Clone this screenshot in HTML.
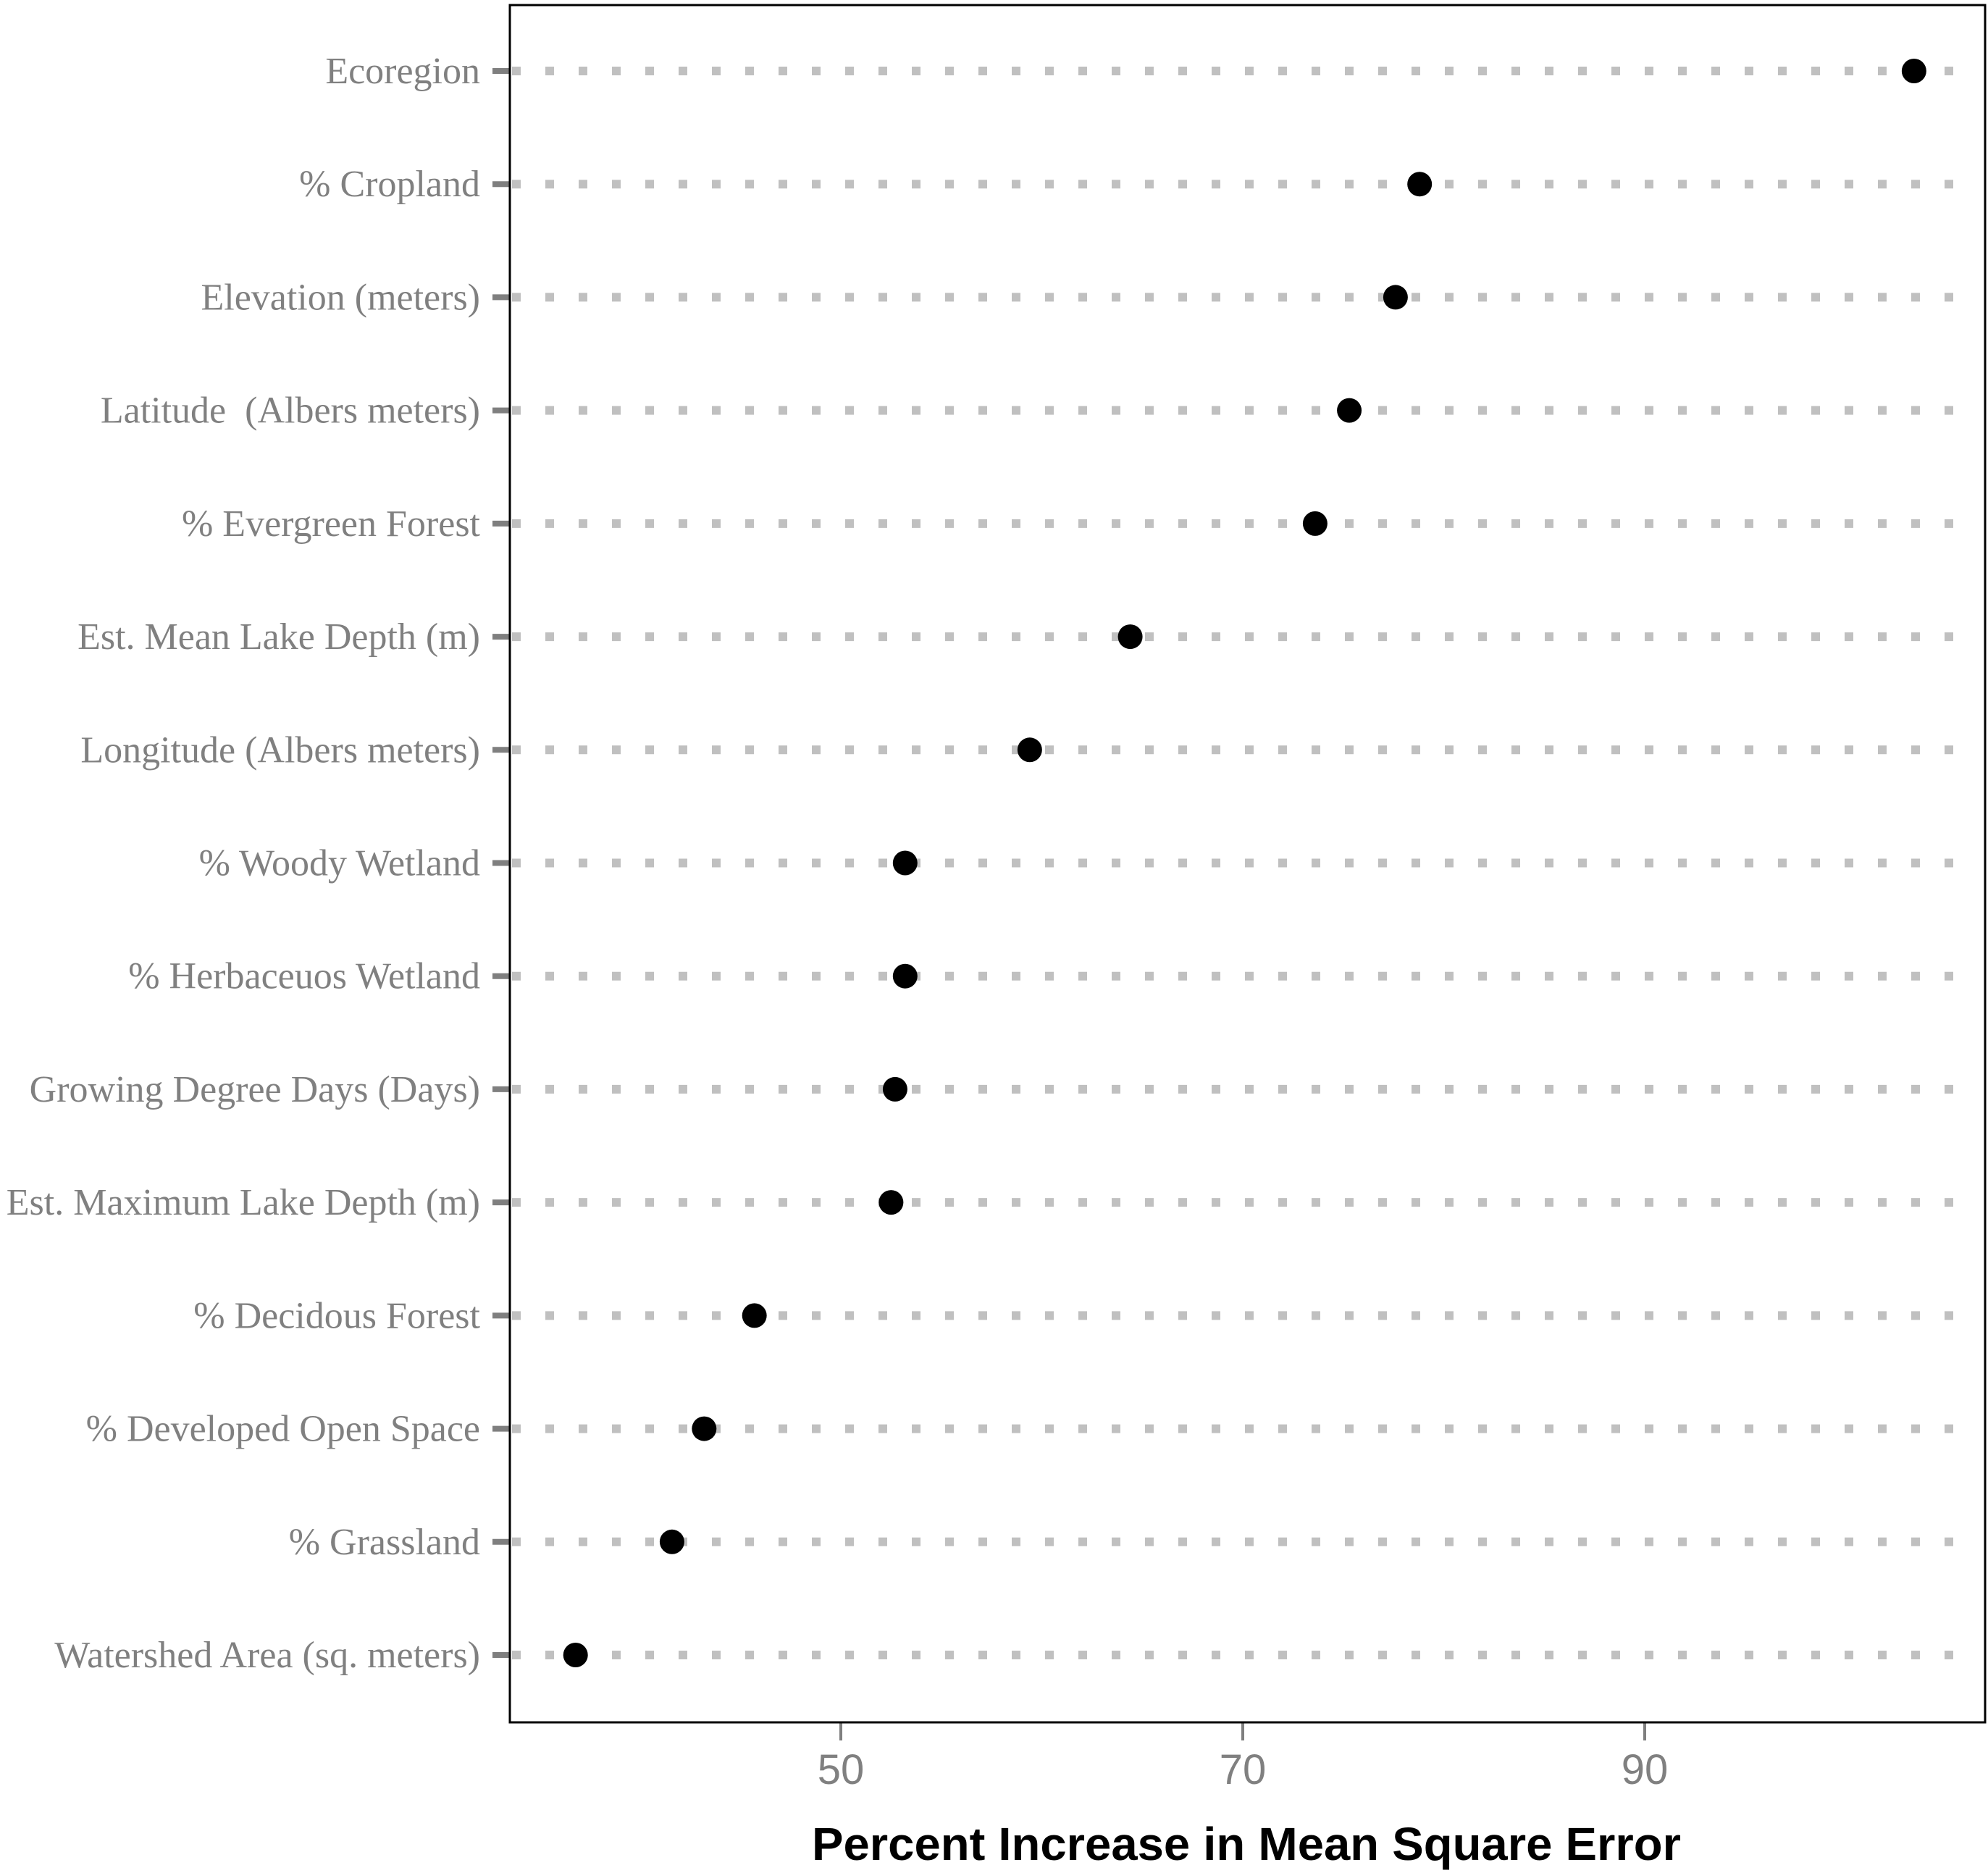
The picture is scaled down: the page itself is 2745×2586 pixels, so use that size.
<!DOCTYPE html>
<html><head><meta charset="utf-8"><style>html,body{margin:0;padding:0;background:#fff}svg{display:block}text{white-space:pre}</style></head>
<body>
<svg id="chart" width="2745" height="2586" viewBox="0 0 2745 2586" xmlns="http://www.w3.org/2000/svg">
<rect x="0" y="0" width="2745" height="2586" fill="#fff"/>
<g id="rows"></g>
<g id="xaxis"></g>
<rect x="704" y="7" width="2037" height="2371" fill="none" stroke="#000" stroke-width="3"/>
<text x="1721" y="2568" text-anchor="middle" font-family="Liberation Sans, sans-serif" font-weight="bold" font-size="64" textLength="1200" lengthAdjust="spacingAndGlyphs" fill="#000">Percent Increase in Mean Square Error</text>
</svg>
<script>
const categories = ["Ecoregion","% Cropland","Elevation (meters)","Latitude  (Albers meters)","% Evergreen Forest","Est. Mean Lake Depth (m)","Longitude (Albers meters)","% Woody Wetland","% Herbaceuos Wetland","Growing Degree Days (Days)","Est. Maximum Lake Depth (m)","% Decidous Forest","% Developed Open Space","% Grassland","Watershed Area (sq. meters)"];
const values = [103.4,78.8,77.6,75.3,73.6,64.4,59.4,53.2,53.2,52.7,52.5,45.7,43.2,41.6,36.8];
const xTicks = [50,70,90];

const NS = "http://www.w3.org/2000/svg";
function xScale(v){ return 1161 + (v-50)*27.75; }
function yScale(i){ return 98 + i*(2285-98)/(categories.length-1); }
function mk(tag, attrs){ const e=document.createElementNS(NS,tag); for(const k in attrs) e.setAttribute(k,attrs[k]); return e; }

const rows = document.getElementById('rows');
categories.forEach((c,i)=>{
  const y = yScale(i);
  const line = mk('line',{x1:707,x2:2712,y1:y,y2:y,stroke:'#c0c0c0','stroke-width':12,'stroke-dasharray':'12 34'});
  
  
  rows.appendChild(line);
  const tick = mk('line',{x1:680,x2:704,y1:y,y2:y,stroke:'#7f7f7f','stroke-width':8});
  
  
  rows.appendChild(tick);
  const t = mk('text',{x:663,y:y+17,'text-anchor':'end','font-family':'Liberation Serif, serif','font-size':52,fill:'#808080'});
  t.textContent = c;
  
  
  rows.appendChild(t);
  const dot = mk('circle',{cx:xScale(values[i]),cy:y,r:17,fill:'#000'});
  
  
  rows.appendChild(dot);
});

const xa = document.getElementById('xaxis');
xTicks.forEach(v=>{
  const x = xScale(v);
  const tk = mk('line',{x1:x,x2:x,y1:2378,y2:2403,stroke:'#7f7f7f','stroke-width':4});
  
  
  xa.appendChild(tk);
  const t = mk('text',{x:x,y:2463,'text-anchor':'middle','font-family':'Liberation Sans, sans-serif','font-size':58,fill:'#808080'});
  t.textContent = v;
  
  
  xa.appendChild(t);
});
</script>
</body></html>
